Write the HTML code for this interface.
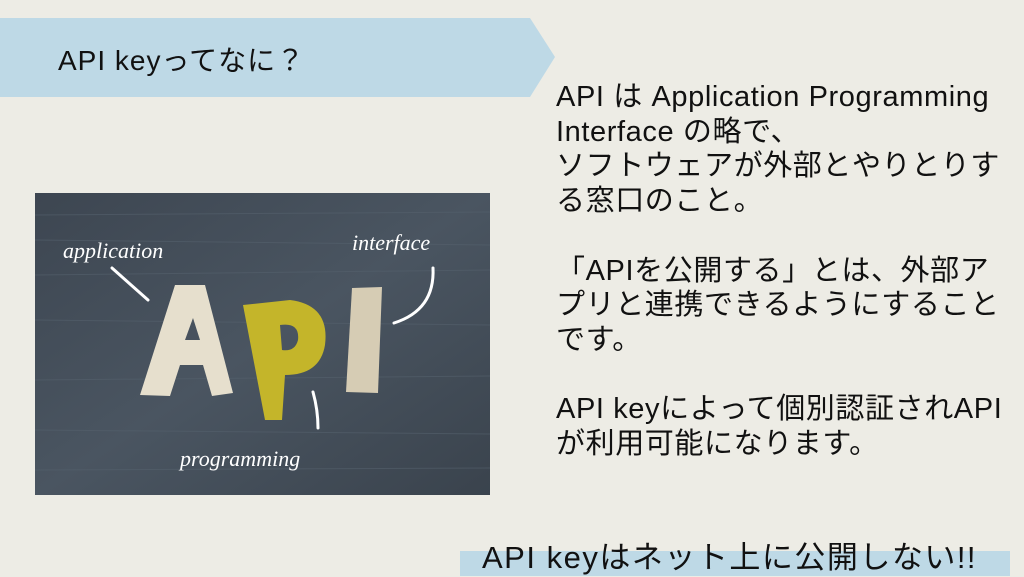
<!DOCTYPE html>
<html><head><meta charset="utf-8"><style>
html,body{margin:0;padding:0}
body{width:1024px;height:576px;background:#edece5;position:relative;overflow:hidden;font-family:"Liberation Sans","Noto Sans CJK JP",sans-serif;color:#111}
.t{position:absolute;white-space:nowrap}
#body{left:556px;top:80px;font-size:29px;line-height:34.7px;letter-spacing:0.6px}
</style></head><body>
<svg width="1024" height="576" style="position:absolute;left:0;top:0">
<polygon points="0,18 530,18 555,57 530,97 0,97" fill="#bed9e6"/>
<rect x="460" y="551" width="550" height="25" fill="#bed9e6"/>
<defs><linearGradient id="g" x1="0" y1="0" x2="1" y2="1"><stop offset="0" stop-color="#3d4651"/><stop offset="0.5" stop-color="#4a5561"/><stop offset="1" stop-color="#3a434d"/></linearGradient></defs>
<rect x="35" y="193" width="455" height="302" fill="url(#g)"/>
<g stroke="#55616d" stroke-width="1" opacity="0.6">
<line x1="35" y1="215" x2="490" y2="212"/><line x1="35" y1="240" x2="490" y2="245"/><line x1="35" y1="275" x2="490" y2="270"/><line x1="35" y1="320" x2="490" y2="325"/><line x1="35" y1="380" x2="490" y2="376"/><line x1="35" y1="430" x2="490" y2="434"/><line x1="35" y1="470" x2="490" y2="468"/>
</g>
<path d="M140,395 L175,285 L205,285 L233,393 L212,396 L203,365 L180,365 L170,396 Z M185,340 L200,340 L193,318 Z" fill="#e6dfcd" fill-rule="evenodd"/>
<path d="M243,305 L290,300 Q330,305 325,345 Q320,375 285,375 L282,420 L265,420 Z M280,325 Q300,322 298,340 Q295,352 282,350 Z" fill="#c4b52a" fill-rule="evenodd"/>
<path d="M352,288 L382,287 L378,393 L346,392 Z" fill="#d6ccb4"/>
<g fill="none" stroke="#fff" stroke-width="3" stroke-linecap="round">
<path d="M112,268 L148,300"/><path d="M433,268 Q435,310 394,323"/><path d="M313,392 Q318,410 318,428"/>
</g>
<g fill="#fff" font-family="'Liberation Serif',serif" font-style="italic" font-size="22">
<text x="63" y="258">application</text><text x="352" y="250">interface</text><text x="180" y="466">programming</text>
</g>
</svg>
<div class="t" style="left:58px;top:39px;font-size:28px;letter-spacing:1px">API keyってなに？</div>
<div class="t" id="body">API は Application Programming<br>Interface の略で、<br>ソフトウェアが外部とやりとりす<br>る窓口のこと。<br><br>「APIを公開する」とは、外部ア<br>プリと連携できるようにすること<br>です。<br><br>API keyによって個別認証されAPI<br>が利用可能になります。</div>
<div class="t" style="left:482px;top:532px;font-size:31px;letter-spacing:1.5px">API keyはネット上に公開しない!!</div>
</body></html>
